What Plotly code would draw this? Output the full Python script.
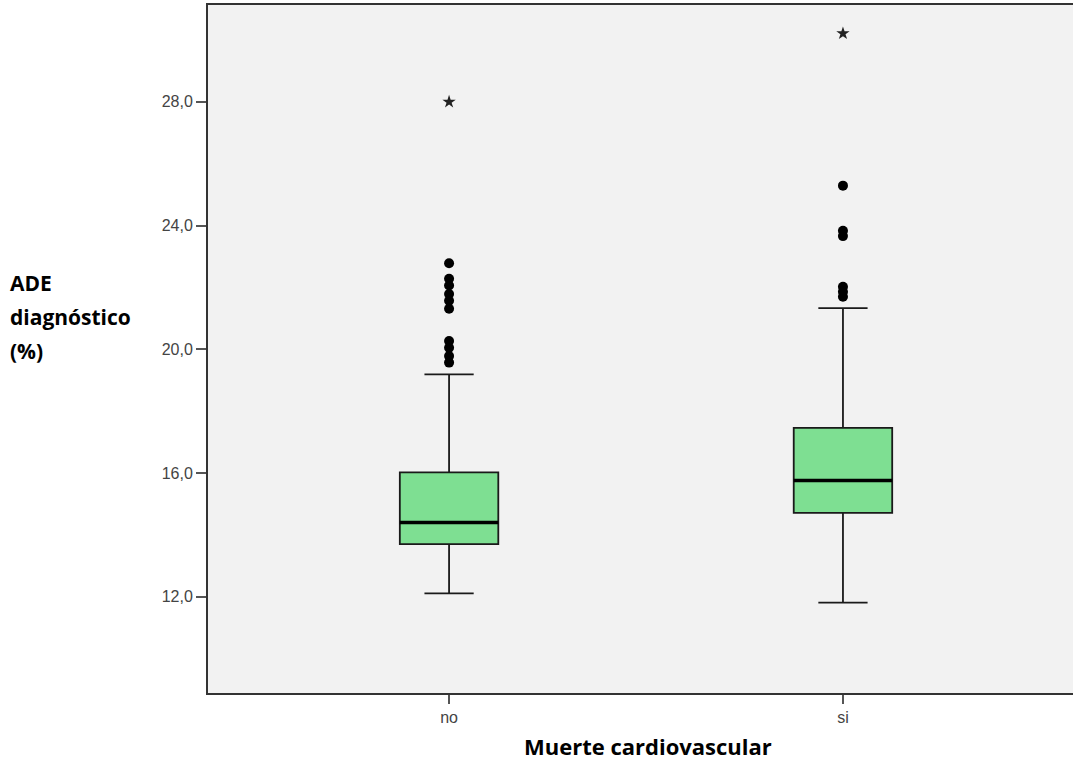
import plotly.graph_objects as go

categories = ["no", "si"]
q1 = [13.70, 14.71]
median = [14.40, 15.76]
q3 = [16.02, 17.46]
lower_whisker = [12.11, 11.81]
upper_whisker = [19.19, 21.33]
outliers_no = [22.78, 22.28, 22.06, 21.79, 21.57, 21.31, 20.27, 20.05, 19.78, 19.57]
outliers_si = [25.29, 23.83, 23.66, 22.02, 21.86, 21.70]
extremes_no = [28.0]
extremes_si = [30.21]
y_ticks = [12, 16, 20, 24, 28]
y_title_lines = ["ADE", "diagnóstico", "(%)"]
x_title = "Muerte cardiovascular"

box_w = 0.25
fill = "rgb(126,223,146)"
xpos = list(range(len(categories)))

fig = go.Figure()
fig.add_trace(go.Box(
    x=xpos, q1=q1, median=median, q3=q3,
    lowerfence=lower_whisker, upperfence=upper_whisker,
    width=box_w, whiskerwidth=0.5, fillcolor=fill,
    line=dict(color="#1a1a1a", width=1.8), boxpoints=False,
    showlegend=False, hoverinfo="skip"))

for i, m in enumerate(median):
    fig.add_trace(go.Scatter(
        x=[xpos[i] - box_w / 2, xpos[i] + box_w / 2], y=[m, m],
        mode="lines", line=dict(color="black", width=3.5),
        showlegend=False, hoverinfo="skip"))

for i, vals in enumerate([outliers_no, outliers_si]):
    fig.add_trace(go.Scatter(
        x=[xpos[i]] * len(vals), y=vals, mode="markers",
        marker=dict(symbol="circle", size=10, color="black"),
        showlegend=False))

for i, vals in enumerate([extremes_no, extremes_si]):
    fig.add_trace(go.Scatter(
        x=[xpos[i]] * len(vals), y=vals, mode="markers",
        marker=dict(symbol="star", size=10, color="#222222",
                    line=dict(width=0)),
        showlegend=False))

fig.update_layout(
    width=1073, height=762,
    margin=dict(l=208, r=0, t=5, b=69),
    paper_bgcolor="white", plot_bgcolor="#f2f2f2",
    separators=",.",
    font=dict(family="Liberation Sans, Arial, sans-serif", size=16, color="#444444"),
)
fig.update_xaxes(
    range=[-0.612, 1.584], tickvals=xpos, ticktext=categories,
    showgrid=False, zeroline=False, showline=True, linecolor="#333333",
    linewidth=2, mirror=True, ticks="outside", ticklen=9, tickwidth=2,
    tickcolor="#555555", tickfont=dict(size=16, color="#444444"))
fig.update_yaxes(
    range=[8.89, 31.13], tickvals=y_ticks, tickformat=".1f",
    showgrid=False, zeroline=False, showline=True, linecolor="#333333",
    linewidth=2, mirror=False, ticks="outside", ticklen=10, tickwidth=2,
    tickcolor="#555555", tickfont=dict(size=16, color="#444444"))

title_font = dict(family="Open Sans, sans-serif", size=21, color="black")
for k, line in enumerate(y_title_lines):
    fig.add_annotation(
        text="<b>" + line + "</b>",
        xref="paper", yref="paper", x=-0.2312, y=0.596 - k * 0.0494,
        xanchor="left", yanchor="middle", align="left", showarrow=False,
        font=title_font)
fig.add_annotation(
    text="<b>" + x_title + "</b>",
    xref="paper", yref="paper", x=0.509, y=-0.077, xanchor="center", yanchor="middle",
    showarrow=False, font=dict(family="Open Sans, sans-serif", size=22, color="black"))

fig.write_html("out.html", config={"displayModeBar": False},
               post_script="document.body.style.margin='0';")
